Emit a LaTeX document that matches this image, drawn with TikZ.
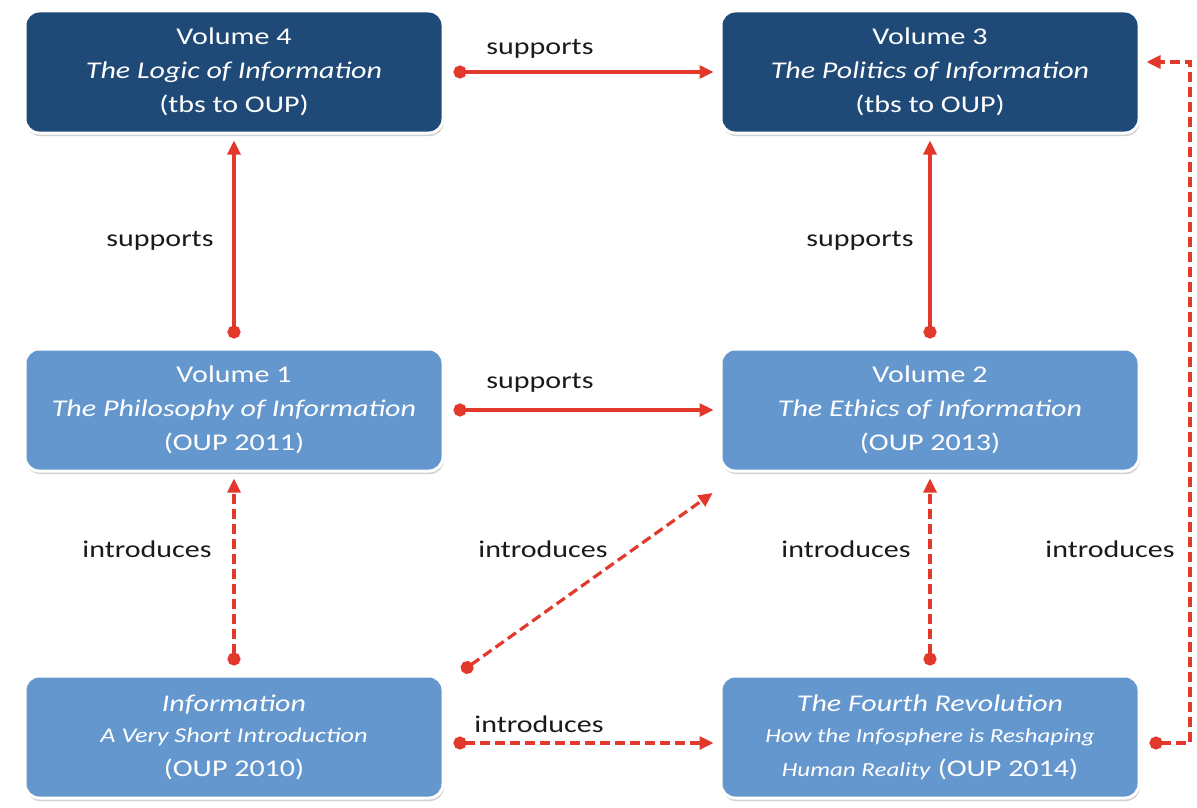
\documentclass[tikz,border=0pt]{standalone}
\usepackage{fontspec}
\setmainfont{Carlito}[FakeStretch=1.25]
\usetikzlibrary{arrows.meta,shadows}
\definecolor{darkbox}{HTML}{1F4A78}
\definecolor{lightbox}{HTML}{6597CF}
\definecolor{arrowred}{HTML}{E3392D}
\definecolor{labeltext}{HTML}{1A1A1A}
\tikzset{
  box/.style={rounded corners=14pt, draw=white, line width=3pt,
    minimum width=418pt, minimum height=122pt, align=center,
    text=white, font=\fontsize{24}{34}\selectfont,
    drop shadow={shadow xshift=1pt, shadow yshift=-3pt, fill=black!30, opacity=0.6}},
  darkb/.style={box, fill=darkbox},
  lightb/.style={box, fill=lightbox},
  lbl/.style={text=labeltext, font=\fontsize{24}{28}\selectfont},
  conn/.style={draw=arrowred, line width=3.2pt,
    {Circle[length=13pt,width=13pt]}-{Triangle[length=14pt,width=13pt]}},
  sup/.style={conn, shorten <=9pt, shorten >=6pt},
  intro/.style={conn, dash pattern=on 10pt off 5pt, shorten <=9pt, shorten >=6pt},
}
\begin{document}
\begin{tikzpicture}[x=1pt,y=-1pt]
\useasboundingbox (0,0) rectangle (1197,808);
\node[darkb] (v4) at (234,72) {Volume 4\\\textit{The Logic of Information}\\(tbs to OUP)};
\node[darkb] (v3) at (930,72) {Volume 3\\\textit{The Politics of Information}\\(tbs to OUP)};
\node[lightb] (v1) at (234,410) {Volume 1\\\textit{The Philosophy of Information}\\(OUP 2011)};
\node[lightb] (v2) at (930,410) {Volume 2\\\textit{The Ethics of Information}\\(OUP 2013)};
\node[lightb] (inf) at (234,737) {\textit{Information}\\[-3pt]{\fontsize{21}{26}\selectfont\textit{A Very Short Introduction}}\\[0pt](OUP 2010)};
\node[lightb] (fr) at (930,737) {\textit{The Fourth Revolution}\\[-3pt]{\fontsize{20}{26}\selectfont\textit{How the Infosphere is Reshaping}}\\[0pt]{\fontsize{20}{26}\selectfont\textit{Human Reality}} (OUP 2014)};

\coordinate (c1) at (1190,743);
\coordinate (c2) at (1190,62);

\draw[sup] (v4.east) -- (v3.west);
\draw[sup] (v1.north) -- (v4.south);
\draw[sup] (v2.north) -- (v3.south);
\draw[sup] (v1.east) -- (v2.west);
\draw[intro] (inf.north) -- (v1.south);
\draw[intro] ([shift={(10,2)}]inf.north east) -- ([shift={(-2,17)}]v2.south west);
\draw[intro] (fr.north) -- (v2.south);
\draw[intro] ([yshift=-6]inf.east) -- ([yshift=-6]v2.west |- inf.east);
\draw[intro] ([yshift=-6]fr.east) -- (c1) -- (c2) -- ([yshift=10]v3.east);

\node[lbl] (l1) at (540,49) {supports};
\node[lbl] (l2) at (160,241) {supports};
\node[lbl] (l3) at (860,241) {supports};
\node[lbl] (l4) at (540,383) {supports};
\node[lbl] (l5) at (147,549) {introduces};
\node[lbl] (l6) at (543,549) {introduces};
\node[lbl] (l7) at (846,549) {introduces};
\node[lbl] (l8) at (1110,549) {introduces};
\node[lbl] (l9) at (539,724) {introduces};
\end{tikzpicture}
\end{document}
